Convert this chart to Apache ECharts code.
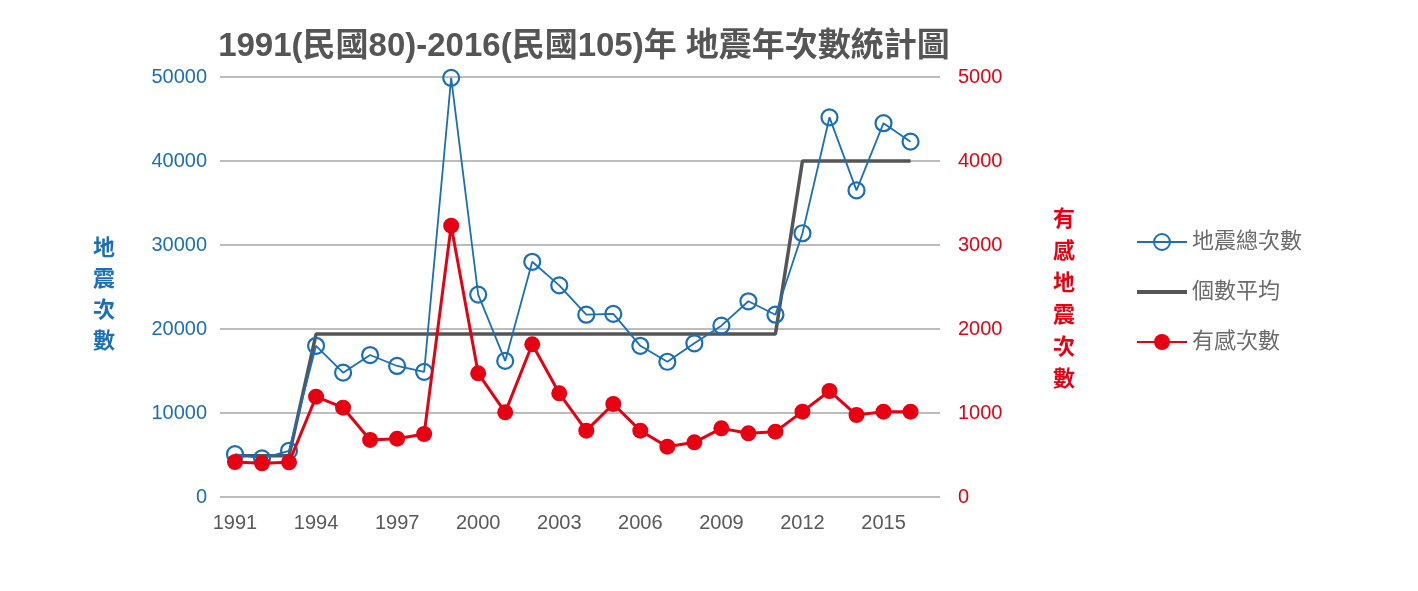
<!DOCTYPE html>
<html>
<head>
<meta charset="utf-8">
<script src="https://cdn.jsdelivr.net/npm/echarts@6/dist/echarts.min.js"></script>
<style>
  html, body { margin: 0; padding: 0; background: #fff; }
  #chart { width: 1418px; height: 591px; }
</style>
</head>
<body>
<div id="chart"></div>
<script>
var years = [1991, 1992, 1993, 1994, 1995, 1996, 1997, 1998, 1999, 2000, 2001, 2002, 2003,
  2004, 2005, 2006, 2007, 2008, 2009, 2010, 2011, 2012, 2013, 2014, 2015, 2016]
// 地震總次數
var totalCounts = [5100, 4600, 5500, 18000, 14800, 16900, 15600, 14900, 49900, 24100, 16200, 28000, 25200,
  21700, 21800, 18000, 16100, 18300, 20400, 23300, 21700, 31400, 45200, 36500, 44500, 42300]
// 個數平均
var avgCounts = [4900, 4900, 4900, 19400, 19400, 19400, 19400, 19400, 19400, 19400, 19400, 19400, 19400,
  19400, 19400, 19400, 19400, 19400, 19400, 19400, 19400, 40000, 40000, 40000, 40000, 40000]
// 有感次數
var feltCounts = [417, 401, 413, 1194, 1063, 679, 694, 750, 3230, 1472, 1008, 1818, 1234,
  790, 1107, 790, 599, 651, 817, 758, 778, 1016, 1262, 976, 1016, 1016]
var xTicks = [1991, 1994, 1997, 2000, 2003, 2006, 2009, 2012, 2015]
var leftTicks = [0, 10000, 20000, 30000, 40000, 50000]
var rightTicks = [0, 1000, 2000, 3000, 4000, 5000]

var blue = '#1a6fb6'
var red = '#e60012'
var gray = '#555555'
var font = 'Arial, "Liberation Sans", "Noto Sans CJK TC", sans-serif'

function pairs(vals) {
  return years.map(function (y, i) { return [y, vals[i]] })
}

var chart = echarts.init(document.getElementById('chart'))
var option = {
  animation: false,
  textStyle: { fontFamily: font },
  title: {
    text: '1991(民國80)-2016(民國105)年 地震年次數統計圖',
    left: 579,
    top: 25,
    textAlign: 'center',
    textStyle: { fontSize: 33, fontWeight: 'bold', color: '#555', fontFamily: font }
  },
  // 縱軸名稱（直書）
  graphic: [
    {
      type: 'text',
      left: 93,
      top: 233,
      style: { text: '地\n震\n次\n數', font: 'bold 22px ' + font, fill: blue, lineHeight: 31, align: 'center' }
    },
    {
      type: 'text',
      left: 1053,
      top: 204,
      style: { text: '有\n感\n地\n震\n次\n數', font: 'bold 22px ' + font, fill: red, lineHeight: 32, align: 'center' }
    }
  ],
  legend: {
    orient: 'vertical',
    left: 1131,
    top: 226,
    itemWidth: 50,
    itemHeight: 20,
    itemGap: 28,
    textStyle: { fontSize: 22, color: '#6b6b6b', fontFamily: font },
    data: [
      { name: '地震總次數' },
      { name: '個數平均', icon: 'path://M0,0L48,0L48,4L0,4Z' },
      { name: '有感次數' }
    ]
  },
  grid: { left: 220, right: 478, top: 77, bottom: 94 },
  xAxis: {
    type: 'value',
    min: 1990.445,
    max: 2017.09,
    axisLine: { show: false },
    axisTick: { show: false },
    splitLine: { show: false },
    axisLabel: {
      customValues: xTicks,
      fontSize: 20,
      color: '#595959',
      margin: 16,
      formatter: function (v) { return String(v) }
    }
  },
  yAxis: [
    {
      type: 'value',
      min: leftTicks[0],
      max: leftTicks[leftTicks.length - 1],
      interval: leftTicks[1] - leftTicks[0],
      axisLine: { show: false },
      axisTick: { show: false },
      axisLabel: { fontSize: 20, color: blue, margin: 13, formatter: function (v) { return String(v) } },
      splitLine: { lineStyle: { color: '#a6a6a6', width: 1.5 } }
    },
    {
      type: 'value',
      min: rightTicks[0],
      max: rightTicks[rightTicks.length - 1],
      interval: rightTicks[1] - rightTicks[0],
      axisLine: { show: false },
      axisTick: { show: false },
      axisLabel: { fontSize: 20, color: red, margin: 18, formatter: function (v) { return String(v) } },
      splitLine: { show: false }
    }
  ],
  series: [
    {
      name: '個數平均',
      type: 'line',
      yAxisIndex: 0,
      data: pairs(avgCounts),
      symbol: 'none',
      lineStyle: { color: gray, width: 3.5 },
      itemStyle: { color: gray },
      z: 2
    },
    {
      name: '地震總次數',
      type: 'line',
      yAxisIndex: 0,
      data: pairs(totalCounts),
      symbol: 'circle',
      symbolSize: 16,
      lineStyle: { color: blue, width: 1.8 },
      itemStyle: { color: 'rgba(0,0,0,0)', borderColor: blue, borderWidth: 2.2 },
      z: 3
    },
    {
      name: '有感次數',
      type: 'line',
      yAxisIndex: 1,
      data: pairs(feltCounts),
      symbol: 'circle',
      symbolSize: 16,
      lineStyle: { color: red, width: 3 },
      itemStyle: { color: red },
      z: 4
    }
  ]
}
chart.setOption(option)
</script>
</body>
</html>
